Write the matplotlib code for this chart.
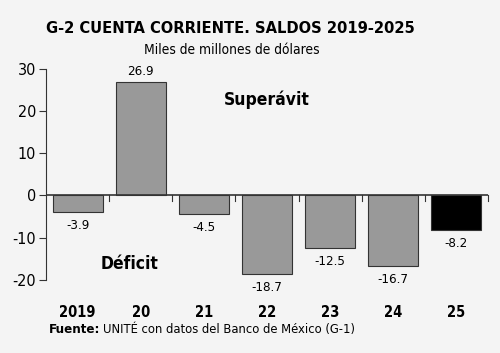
import matplotlib
matplotlib.use('Agg')
import matplotlib.pyplot as plt
import numpy as np

years = ['2019', '20', '21', '22', '23', '24', '25']
saldos = [-3.9, 26.9, -4.5, -18.7, -12.5, -16.7, -8.2]
colores = ['#999999'] * 6 + ['#000000']
yticks = [-20, -10, 0, 10, 20, 30]

plt.rcParams['font.family'] = ['DejaVu Sans']
plt.rcParams['font.stretch'] = 'condensed'
bg = '#f4f4f4'

fig = plt.figure(figsize=(5, 3.53), dpi=100, facecolor=bg)
ax = fig.add_axes([0.092, 0.207, 0.884, 0.598], facecolor=bg)

x = np.arange(len(years))
ax.bar(x, saldos, width=0.79, color=colores, edgecolor='#333333', linewidth=0.8, zorder=2)
ax.axhline(0, color='#333333', linewidth=1.2, zorder=3)

# small separator ticks under the zero line
for xi in x + 0.5:
    ax.plot([xi, xi], [0, -1.2], color='#333333', linewidth=0.8, zorder=3, clip_on=False)

for xi, v in zip(x, saldos):
    if v >= 0:
        ax.text(xi, v + 1.0, f'{v:.1f}', ha='center', va='bottom', fontsize=9.5)
    else:
        ax.text(xi, v - 1.6, f'{v:.1f}', ha='center', va='top', fontsize=9.5)

ax.text(3.0, 22.7, 'Superávit', ha='center', va='center', fontsize=12.5, fontweight='bold')
ax.text(0.82, -16.3, 'Déficit', ha='center', va='center', fontsize=12.5, fontweight='bold')

ax.set_xlim(-0.5, 6.5)
ax.set_ylim(-20, 30)
ax.set_yticks(yticks)
ax.set_yticklabels([str(t) for t in yticks], fontsize=11.5)
ax.tick_params(axis='y', length=5, width=0.8, color='#333333', pad=2)
ax.set_xticks(x)
ax.set_xticklabels(years, fontsize=10.5, fontweight='bold')
ax.tick_params(axis='x', length=0, pad=18)
for s in ['top', 'right', 'bottom']:
    ax.spines[s].set_visible(False)
ax.spines['left'].set_color('#333333')
ax.spines['left'].set_linewidth(0.8)

fig.text(0.46, 0.918, 'G-2 CUENTA CORRIENTE. SALDOS 2019-2025', ha='center', va='center',
         fontsize=11.8, fontweight='bold')
fig.text(0.464, 0.858, 'Miles de millones de dólares', ha='center', va='center', fontsize=9.9)

fuente = fig.text(0.098, 0.066, 'Fuente:', ha='left', va='center', fontsize=9.5, fontweight='bold')
fig.canvas.draw()
bb = fuente.get_window_extent().transformed(fig.transFigure.inverted())
fig.text(bb.x1 + 0.006, 0.066, 'UNITÉ con datos del Banco de México (G-1)', ha='left', va='center',
         fontsize=9.3)

fig.savefig('out.png', dpi=100, facecolor=bg)
